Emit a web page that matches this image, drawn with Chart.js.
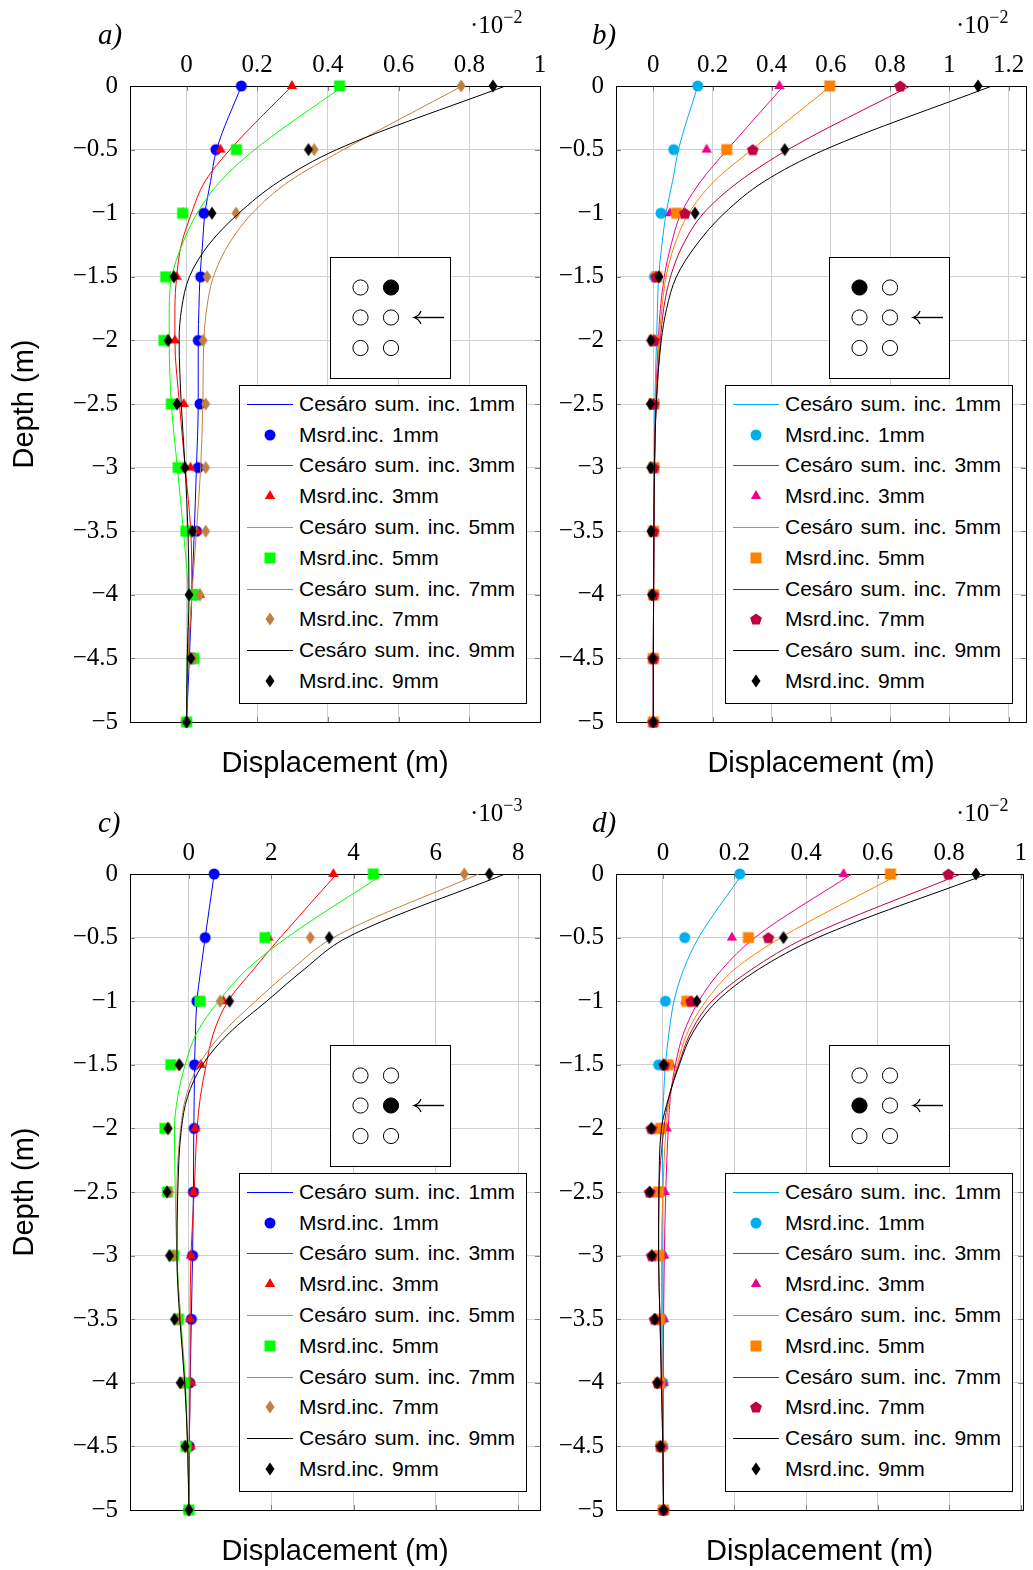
<!DOCTYPE html>
<html>
<head>
<meta charset="utf-8">
<script src="https://cdn.jsdelivr.net/npm/chart.js@4/dist/chart.umd.min.js"></script>
<style>
body { margin: 0; background: #fff; }
#page { position: relative; width: 1033px; height: 1570px; overflow: hidden; }
#page canvas.chart { position: absolute; }
.lbl { position: absolute; font-family: 'Liberation Serif', serif; font-style: italic; font-size: 29px; line-height: 29px; }
.exp { position: absolute; font-family: 'Liberation Serif', serif; font-size: 25px; line-height: 25px; }
.exp sup { font-size: 18px; vertical-align: 10px; line-height: 0; }
.legend { position: absolute; width: 288px; height: 319px; box-sizing: border-box; border: 1px solid #000; background: #fff;
  padding-top: 3px; font-family: 'Liberation Sans', Arial, sans-serif; font-size: 21px; word-spacing: 2px; }
.legend .row { height: 30.8px; display: flex; align-items: center; }
.legend .smp { width: 46px; height: 30px; margin-left: 7px; margin-right: 6px; position: relative; flex: none; }
.legend .smp .ln { position: absolute; left: 0; right: 0; top: 15px; height: 1px; }
.legend .smp img { position: absolute; left: 15px; top: 7px; }
.diag { position: absolute; width: 121px; height: 122px; box-sizing: border-box; border: 1px solid #000; background: #fff; }
</style>
</head>
<body>
<div id="page"></div>
<script>
// depths (m)
const depthMsrd = [0, -0.5, -1, -1.5, -2, -2.5, -3, -3.5, -4, -4.5, -5];
const depthCurve = [0, -0.5, -0.75, -1, -1.25, -1.5, -1.75, -2, -2.5, -3, -3.5, -4, -4.5, -5];
const yTicks = [0, -0.5, -1, -1.5, -2, -2.5, -3, -3.5, -4, -4.5, -5];
const incs = ['1mm', '3mm', '5mm', '7mm', '9mm'];

// panel a (x 10^-2 m)
const a1m = [0.155, 0.083, 0.049, 0.040, 0.033, 0.038, 0.033, 0.028, 0.025, 0.019, 0.0];
const a3m = [0.298, 0.096, -0.010, -0.028, -0.033, -0.008, 0.011, 0.030, 0.038, 0.020, 0.0];
const a5m = [0.433, 0.141, -0.011, -0.059, -0.064, -0.043, -0.024, -0.002, 0.024, 0.021, 0.0];
const a7m = [0.777, 0.361, 0.140, 0.058, 0.047, 0.054, 0.054, 0.054, 0.038, 0.019, 0.0];
const a9m = [0.867, 0.345, 0.072, -0.036, -0.052, -0.027, -0.005, 0.016, 0.007, 0.012, 0.0];
const a1c = [0.155, 0.085, 0.068, 0.052, 0.045, 0.038, 0.035, 0.033, 0.033, 0.028, 0.022, 0.015, 0.008, 0.0];
const a3c = [0.298, 0.123, 0.052, 0.014, -0.015, -0.028, -0.033, -0.033, -0.020, -0.004, 0.012, 0.015, 0.004, 0.0];
const a5c = [0.443, 0.193, 0.095, 0.030, -0.013, -0.042, -0.049, -0.049, -0.043, -0.026, -0.009, 0.004, 0.002, 0.0];
const a7c = [0.780, 0.444, 0.290, 0.186, 0.118, 0.076, 0.057, 0.049, 0.046, 0.040, 0.028, 0.015, 0.004, 0.0];
const a9c = [0.902, 0.425, 0.262, 0.148, 0.062, 0.008, -0.014, -0.021, -0.015, -0.004, 0.004, 0.007, 0.002, 0.0];

// panel b (x 10^-2 m)
const b1m = [0.150, 0.069, 0.026, 0.004, 0.0, 0.0, 0.0, 0.0, 0.0, 0.0, 0.0];
const b3m = [0.426, 0.180, 0.056, 0.010, 0.005, 0.004, 0.003, 0.002, 0.002, 0.001, 0.0];
const b5m = [0.596, 0.248, 0.079, 0.012, 0.002, 0.002, 0.002, 0.001, 0.001, 0.0, 0.0];
const b7m = [0.834, 0.336, 0.107, 0.010, 0.002, 0.001, 0.001, 0.0, 0.0, 0.0, 0.0];
const b9m = [1.097, 0.444, 0.141, 0.019, -0.009, -0.010, -0.009, -0.008, -0.005, -0.002, 0.0];
const b1c = [0.150, 0.085, 0.065, 0.043, 0.029, 0.018, 0.014, 0.011, 0.005, 0.003, 0.002, 0.001, 0.0, 0.0];
const b3c = [0.440, 0.250, 0.160, 0.094, 0.060, 0.037, 0.024, 0.017, 0.008, 0.004, 0.002, 0.001, 0.0, 0.0];
const b5c = [0.600, 0.333, 0.205, 0.120, 0.072, 0.043, 0.029, 0.020, 0.009, 0.004, 0.002, 0.001, 0.0, 0.0];
const b7c = [0.868, 0.455, 0.290, 0.170, 0.100, 0.058, 0.035, 0.024, 0.010, 0.004, 0.002, 0.001, 0.0, 0.0];
const b9c = [1.144, 0.580, 0.375, 0.240, 0.145, 0.078, 0.045, 0.027, 0.010, 0.004, 0.002, 0.001, 0.0, 0.0];

// panel c (x 10^-3 m)
const c1m = [0.615, 0.396, 0.194, 0.137, 0.130, 0.110, 0.090, 0.060, 0.020, 0.010, 0.0];
const c3m = [3.51, 1.93, 0.84, 0.29, 0.153, 0.110, 0.049, 0.030, 0.056, 0.040, 0.0];
const c5m = [4.48, 1.85, 0.27, -0.44, -0.58, -0.52, -0.37, -0.25, -0.11, -0.07, 0.0];
const c7m = [6.69, 2.95, 0.76, -0.25, -0.50, -0.47, -0.37, -0.27, -0.17, -0.07, 0.0];
const c9m = [7.30, 3.41, 0.99, -0.23, -0.51, -0.53, -0.47, -0.35, -0.21, -0.09, 0.0];
const c1c = [0.615, 0.396, 0.290, 0.194, 0.160, 0.137, 0.130, 0.120, 0.110, 0.090, 0.060, 0.030, 0.010, 0.0];
const c3c = [3.59, 2.22, 1.57, 0.95, 0.60, 0.42, 0.28, 0.20, 0.13, 0.05, 0.03, 0.03, 0.01, 0.0];
const c5c = [4.73, 2.38, 1.41, 0.72, 0.19, -0.09, -0.27, -0.35, -0.33, -0.29, -0.20, -0.08, -0.03, 0.0];
const c7c = [7.04, 3.51, 2.50, 1.62, 0.82, 0.24, -0.07, -0.20, -0.29, -0.29, -0.20, -0.10, -0.03, 0.0];
const c9c = [7.68, 3.84, 2.80, 1.89, 0.98, 0.33, -0.03, -0.18, -0.27, -0.29, -0.22, -0.10, -0.03, 0.0];

// panel d (x 10^-2 m)
const d1m = [0.215, 0.061, 0.007, -0.012, -0.005, -0.005, -0.003, -0.002, 0.0, 0.0, 0.0];
const d3m = [0.505, 0.193, 0.063, 0.023, 0.011, 0.005, 0.004, 0.003, 0.002, 0.001, 0.002];
const d5m = [0.636, 0.239, 0.067, 0.014, -0.006, -0.012, -0.011, -0.009, -0.009, -0.005, 0.002];
const d7m = [0.798, 0.295, 0.079, 0.004, -0.032, -0.037, -0.031, -0.023, -0.014, -0.006, 0.002];
const d9m = [0.875, 0.337, 0.095, 0.002, -0.032, -0.037, -0.031, -0.023, -0.016, -0.007, 0.002];
const d1c = [0.222, 0.100, 0.058, 0.031, 0.017, 0.007, 0.002, -0.002, 0.0, 0.0, 0.0, 0.0, 0.0, 0.002];
const d3c = [0.528, 0.257, 0.165, 0.100, 0.058, 0.035, 0.021, 0.015, 0.008, 0.004, 0.002, 0.001, 0.001, 0.002];
const d5c = [0.662, 0.330, 0.200, 0.120, 0.068, 0.040, 0.019, 0.009, 0.0, -0.004, -0.004, -0.002, 0.0, 0.002];
const d7c = [0.833, 0.400, 0.248, 0.137, 0.077, 0.044, 0.017, 0.003, -0.011, -0.012, -0.008, -0.004, 0.0, 0.002];
const d9c = [0.907, 0.433, 0.267, 0.151, 0.083, 0.046, 0.017, -0.004, -0.011, -0.012, -0.008, -0.004, 0.0, 0.002];

const colorsAC = ['#0000ff', '#ff0000', '#00ff00', '#bf8040', '#000000'];
const colorsBD = ['#00aeef', '#ec008c', '#ff8000', '#bf0040', '#000000'];
const markersAC = ['circle', 'triangle', 'square', 'diamond', 'diamond'];
const markersBD = ['circle', 'triangle', 'square', 'pentagon', 'diamond'];

const panels = [
  { name: 'a', left: 0, top: 0, width: 560, padL: 5, yWidth: 125, padR: 20, yTitle: true, lblOff: 32, diagOff: 200,
    min: -0.16, max: 1.0, step: 0.2, exp: '−2', colors: colorsAC, markers: markersAC,
    msrd: [a1m, a3m, a5m, a7m, a9m], curve: [a1c, a3c, a5c, a7c, a9c], filled: [1, 0] },
  { name: 'b', left: 545, top: 0, width: 488, padL: 0, yWidth: 71, padR: 7, yTitle: false, lblOff: 24, diagOff: 213,
    min: -0.126, max: 1.259, step: 0.2, exp: '−2', colors: colorsBD, markers: markersBD,
    msrd: [b1m, b3m, b5m, b7m, b9m], curve: [b1c, b3c, b5c, b7c, b9c], filled: [0, 0] },
  { name: 'c', left: 0, top: 788, width: 560, padL: 5, yWidth: 125, padR: 20, yTitle: true, lblOff: 32, diagOff: 200,
    min: -1.43, max: 8.53, step: 2, exp: '−3', colors: colorsAC, markers: markersAC,
    msrd: [c1m, c3m, c5m, c7m, c9m], curve: [c1c, c3c, c5c, c7c, c9c], filled: [1, 1] },
  { name: 'd', left: 545, top: 788, width: 488, padL: 0, yWidth: 71, padR: 7, yTitle: false, lblOff: 24, diagOff: 213,
    min: -0.131, max: 1.007, step: 0.2, exp: '−2', colors: colorsBD, markers: markersBD,
    msrd: [d1m, d3m, d5m, d7m, d9m], curve: [d1c, d3c, d5c, d7c, d9c], filled: [0, 1] }
];

Chart.defaults.color = '#000';

function markerCanvas(shape, color) {
  const c = document.createElement('canvas');
  c.width = 16; c.height = 16;
  const g = c.getContext('2d');
  g.fillStyle = color;
  g.beginPath();
  if (shape === 'circle') {
    g.arc(8, 8, 5.5, 0, Math.PI * 2);
  } else if (shape === 'triangle') {
    g.moveTo(8, 2); g.lineTo(13.2, 11); g.lineTo(2.8, 11);
  } else if (shape === 'square') {
    g.rect(2.5, 2.5, 11, 11);
  } else if (shape === 'diamond') {
    g.moveTo(8, 1.5); g.lineTo(12.5, 8); g.lineTo(8, 14.5); g.lineTo(3.5, 8);
  } else if (shape === 'pentagon') {
    for (let k = 0; k < 5; k++) {
      const a = -Math.PI / 2 + k * 2 * Math.PI / 5;
      const px = 8 + 6.2 * Math.cos(a), py = 8.6 + 6.2 * Math.sin(a);
      if (k === 0) g.moveTo(px, py); else g.lineTo(px, py);
    }
  }
  g.closePath();
  g.fill();
  return c;
}

const fmt = v => {
  const r = Math.round(v * 1000) / 1000;
  return r < 0 ? '−' + (-r) : String(r);
};

const framePlugin = {
  id: 'frame',
  beforeDatasetsDraw(chart) {
    const { ctx, chartArea: a, scales } = chart;
    ctx.save();
    ctx.strokeStyle = '#808080';
    ctx.lineWidth = 1;
    ctx.beginPath();
    scales.x.ticks.forEach(t => {
      const px = Math.round(scales.x.getPixelForValue(t.value)) + 0.5;
      ctx.moveTo(px, a.top); ctx.lineTo(px, a.top + 5);
      ctx.moveTo(px, a.bottom); ctx.lineTo(px, a.bottom - 5);
    });
    scales.y.ticks.forEach(t => {
      const py = Math.round(scales.y.getPixelForValue(t.value)) + 0.5;
      ctx.moveTo(a.left, py); ctx.lineTo(a.left + 5, py);
      ctx.moveTo(a.right, py); ctx.lineTo(a.right - 5, py);
    });
    ctx.stroke();
    ctx.strokeStyle = '#000';
    ctx.strokeRect(Math.round(a.left) + 0.5, Math.round(a.top) + 0.5,
      Math.round(a.right - a.left), Math.round(a.bottom - a.top));
    ctx.restore();
  }
};

const page = document.getElementById('page');

panels.forEach(p => {
  const cv = document.createElement('canvas');
  cv.className = 'chart';
  cv.width = p.width; cv.height = 782;
  cv.style.left = p.left + 'px'; cv.style.top = p.top + 'px';
  page.appendChild(cv);

  const mk = p.markers.map((s, k) => markerCanvas(s, p.colors[k]));
  const datasets = [];
  let n = 0;
  incs.forEach((inc, k) => {
    datasets.push({
      label: 'Cesáro sum. inc. ' + inc,
      data: depthCurve.map((d, i) => ({ x: p.curve[k][i], y: d })),
      showLine: true, borderColor: p.colors[k], borderWidth: 1, pointRadius: 0,
      cubicInterpolationMode: 'monotone', fill: false, order: -(n++)
    });
    datasets.push({
      label: 'Msrd.inc. ' + inc,
      data: depthMsrd.map((d, i) => ({ x: p.msrd[k][i], y: d })),
      showLine: false, pointStyle: mk[k], pointRadius: 5, clip: false, order: -(n++)
    });
  });

  const gridColor = '#d0d0d0';
  new Chart(cv, {
    type: 'scatter',
    data: { datasets },
    options: {
      responsive: false,
      animation: false,
      indexAxis: 'y',
      layout: { padding: { left: p.padL, right: p.padR, top: 0, bottom: 0 } },
      plugins: { legend: { display: false }, tooltip: { enabled: false } },
      scales: {
        x: {
          type: 'linear', position: 'top', min: p.min, max: p.max,
          ticks: { stepSize: p.step, includeBounds: false, padding: 6, maxRotation: 0,
            font: { family: 'Liberation Serif', size: 25 }, callback: fmt },
          grid: { color: gridColor, drawTicks: false },
          border: { display: false },
          afterFit: s => { s.height = 86; }
        },
        x2: {
          type: 'linear', position: 'bottom', min: p.min, max: p.max,
          ticks: { display: false },
          grid: { display: false, drawTicks: false },
          border: { display: false },
          title: { display: true, text: 'Displacement (m)',
            font: { family: 'Liberation Sans', size: 29 }, padding: { top: 0, bottom: 1 } },
          afterFit: s => { s.height = 60; }
        },
        y: {
          type: 'linear', position: 'left', min: -5, max: 0,
          afterBuildTicks: s => { s.ticks = yTicks.map(v => ({ value: v })); },
          ticks: { padding: 12, font: { family: 'Liberation Serif', size: 25 }, callback: fmt },
          grid: { color: gridColor, drawTicks: false },
          border: { display: false },
          title: { display: p.yTitle, text: 'Depth (m)',
            font: { family: 'Liberation Sans', size: 29 }, padding: { top: 3, bottom: 4 } },
          afterFit: s => { s.width = p.yWidth; }
        }
      }
    },
    plugins: [framePlugin]
  });

  const chartTop = p.top + 86;
  const chartLeft = p.left + p.padL + p.yWidth;

  // panel letter
  const lb = document.createElement('div');
  lb.className = 'lbl';
  lb.textContent = p.name + ')';
  lb.style.left = (chartLeft - p.lblOff) + 'px';
  lb.style.top = (p.top + 20) + 'px';
  page.appendChild(lb);

  // exponent
  const ex = document.createElement('div');
  ex.className = 'exp';
  ex.innerHTML = '·10<sup>' + p.exp + '</sup>';
  ex.style.left = (chartLeft + 340) + 'px';
  ex.style.top = (p.top + 12) + 'px';
  page.appendChild(ex);

  // pile diagram
  const dg = document.createElement('div');
  dg.className = 'diag';
  dg.style.left = (chartLeft + p.diagOff) + 'px';
  dg.style.top = (chartTop + 171) + 'px';
  let svg = '<svg width="119" height="120" xmlns="http://www.w3.org/2000/svg">';
  [29.5, 60].forEach((cx, ci) => {
    [29.5, 59.5, 90].forEach((cy, ri) => {
      const f = (ci === p.filled[0] && ri === p.filled[1]) ? '#000' : '#fff';
      svg += '<circle cx="' + cx + '" cy="' + cy + '" r="7.6" fill="' + f + '" stroke="#000" stroke-width="1"/>';
    });
  });
  svg += '<line x1="84" y1="59.5" x2="113" y2="59.5" stroke="#000" stroke-width="1.4"/>';
  svg += '<path d="M90 53 Q88 58 83 59.5 Q88 61 90 66" fill="none" stroke="#000" stroke-width="1.3"/>';
  svg += '</svg>';
  dg.innerHTML = svg;
  page.appendChild(dg);

  // legend
  const lg = document.createElement('div');
  lg.className = 'legend';
  lg.style.left = (chartLeft + 109) + 'px';
  lg.style.top = (chartTop + 298.5) + 'px';
  incs.forEach((inc, k) => {
    const r1 = document.createElement('div');
    r1.className = 'row';
    r1.innerHTML = '<div class="smp"><div class="ln" style="background:' + p.colors[k] + '"></div></div><span>Cesáro sum. inc. ' + inc + '</span>';
    lg.appendChild(r1);
    const r2 = document.createElement('div');
    r2.className = 'row';
    r2.innerHTML = '<div class="smp"><img src="' + mk[k].toDataURL() + '" width="16" height="16"></div><span>Msrd.inc. ' + inc + '</span>';
    lg.appendChild(r2);
  });
  page.appendChild(lg);
});
</script>
</body>
</html>
